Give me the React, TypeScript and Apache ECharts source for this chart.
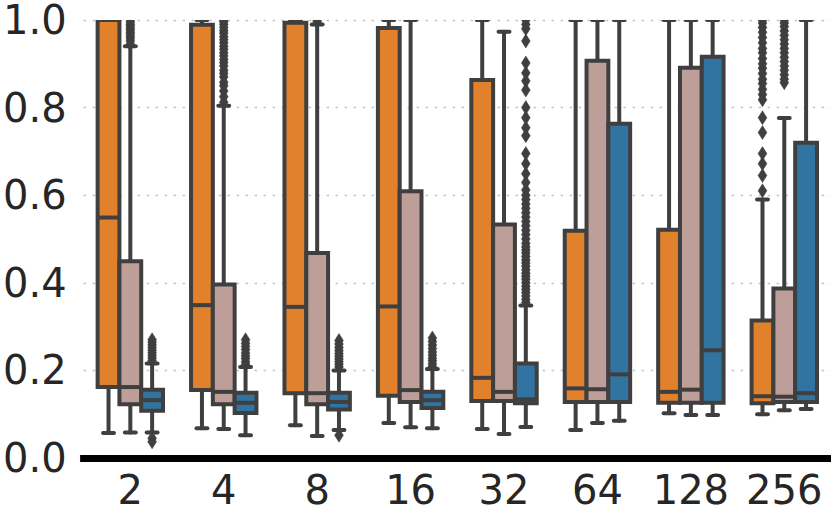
import React, { useEffect, useRef } from 'react';
import * as echarts from 'echarts';

const categories = ['2', '4', '8', '16', '32', '64', '128', '256'];
const yTicks = [0, 0.2, 0.4, 0.6, 0.8, 1.0];
const hueColors = ['#e1812c', '#bd9e99', '#3274a1'];

// per category: [min, q1, median, q3, max]
const orangeStats = [
  [0.057, 0.162, 0.549, 1.0, 1.0],
  [0.068, 0.155, 0.349, 0.989, 1.0],
  [0.075, 0.148, 0.345, 0.994, 1.0],
  [0.08, 0.142, 0.346, 0.982, 1.0],
  [0.066, 0.13, 0.183, 0.863, 1.0],
  [0.064, 0.128, 0.159, 0.519, 1.0],
  [0.102, 0.126, 0.151, 0.521, 1.0],
  [0.1, 0.125, 0.141, 0.314, 0.59],
];
const pinkStats = [
  [0.058, 0.123, 0.162, 0.449, 0.94],
  [0.066, 0.123, 0.151, 0.396, 0.804],
  [0.05, 0.123, 0.148, 0.468, 0.99],
  [0.07, 0.128, 0.155, 0.609, 1.0],
  [0.055, 0.13, 0.151, 0.533, 0.973],
  [0.08, 0.128, 0.157, 0.907, 1.0],
  [0.098, 0.126, 0.156, 0.891, 1.0],
  [0.109, 0.128, 0.14, 0.387, 0.776],
];
const blueStats = [
  [0.058, 0.108, 0.132, 0.156, 0.216],
  [0.052, 0.103, 0.126, 0.149, 0.208],
  [0.064, 0.111, 0.128, 0.149, 0.2],
  [0.068, 0.114, 0.132, 0.151, 0.203],
  [0.071, 0.125, 0.134, 0.216, 0.348],
  [0.085, 0.128, 0.191, 0.763, 1.0],
  [0.098, 0.126, 0.246, 0.916, 1.0],
  [0.112, 0.128, 0.148, 0.72, 1.0],
];

// outliers per category
const orangeOutliers = [
  [], [], [], [], [], [], [],
  [0.61, 0.645, 0.672, 0.695, 0.743, 0.777, 0.818, 0.83, 0.842, 0.855, 0.865, 0.878, 0.89, 0.9, 0.912, 0.925, 0.935, 0.948, 0.96, 0.972, 0.983, 0.993, 1.0],
];
const pinkOutliers = [
  [0.945, 0.952, 0.958, 0.963, 0.968, 0.972, 0.977, 0.981, 0.986, 0.99, 0.995, 1.0],
  [0.812, 0.825, 0.838, 0.85, 0.858, 0.87, 0.878, 0.885, 0.895, 0.903, 0.91, 0.918, 0.925, 0.933, 0.94, 0.948, 0.955, 0.962, 0.97, 0.976, 0.983, 0.99, 0.996, 1.0],
  [0.996, 1.0],
  [], [], [], [],
  [0.857, 0.865, 0.875, 0.885, 0.895, 0.905, 0.915, 0.925, 0.935, 0.945, 0.955, 0.965, 0.975, 0.985, 0.993, 1.0],
];
const blueOutliers = [
  [0.222, 0.228, 0.234, 0.24, 0.246, 0.252, 0.258, 0.264, 0.27, 0.045, 0.037],
  [0.214, 0.22, 0.227, 0.233, 0.24, 0.248, 0.255, 0.262, 0.27],
  [0.208, 0.214, 0.22, 0.226, 0.232, 0.238, 0.245, 0.252, 0.26, 0.268, 0.052],
  [0.209, 0.215, 0.222, 0.228, 0.235, 0.242, 0.25, 0.258, 0.266, 0.274],
  [0.355, 0.362, 0.37, 0.378, 0.385, 0.392, 0.4, 0.408, 0.415, 0.422, 0.43, 0.438, 0.445, 0.452, 0.46, 0.468, 0.475, 0.482, 0.49, 0.5, 0.51, 0.52, 0.53, 0.54, 0.55, 0.56, 0.57, 0.58, 0.59, 0.6, 0.612, 0.629, 0.649, 0.672, 0.695, 0.736, 0.754, 0.777, 0.8, 0.84, 0.861, 0.879, 0.902, 0.952, 0.98, 0.99, 1.0],
  [], [], [],
];

const EDGE = '#3f3f3f';
const LW = 4;

function boxRender(hue: number, color: string) {
  return (params: any, api: any) => {
    const ci = api.value(0);
    const band = api.size([1, 0])[0];
    const w = (band * 0.7) / 3;
    const cx = api.coord([ci, 0])[0] + (hue - 1) * w;
    const y = (v: number) => api.coord([ci, v])[1];
    const yMin = y(api.value(1));
    const yQ1 = y(api.value(2));
    const yMed = y(api.value(3));
    const yQ3 = y(api.value(4));
    const yMax = y(api.value(5));
    const capHalf = w / 4;
    const st = { stroke: EDGE, lineWidth: LW, lineCap: 'round' };
    return {
      type: 'group',
      children: [
        { type: 'line', shape: { x1: cx, y1: yQ3, x2: cx, y2: yMax }, style: st },
        { type: 'line', shape: { x1: cx, y1: yQ1, x2: cx, y2: yMin }, style: st },
        { type: 'line', shape: { x1: cx - capHalf, y1: yMax, x2: cx + capHalf, y2: yMax }, style: st },
        { type: 'line', shape: { x1: cx - capHalf, y1: yMin, x2: cx + capHalf, y2: yMin }, style: st },
        { type: 'rect', shape: { x: cx - w / 2, y: yQ3, width: w, height: yQ1 - yQ3 }, style: { fill: color, stroke: EDGE, lineWidth: LW } },
        { type: 'line', shape: { x1: cx - w / 2, y1: yMed, x2: cx + w / 2, y2: yMed }, style: { stroke: EDGE, lineWidth: LW } },
      ],
    };
  };
}

function outlierRender(hue: number) {
  return (params: any, api: any) => {
    const ci = api.value(0);
    const band = api.size([1, 0])[0];
    const w = (band * 0.7) / 3;
    const p = api.coord([ci, api.value(1)]);
    const cx = p[0] + (hue - 1) * w;
    const cy = p[1];
    const hw = 4.4;
    const hh = 7;
    return {
      type: 'polygon',
      shape: { points: [[cx, cy - hh], [cx + hw, cy], [cx, cy + hh], [cx - hw, cy]] },
      style: { fill: EDGE, stroke: EDGE, lineWidth: 0.5 },
    };
  };
}

export default function App() {
  const ref = useRef<HTMLDivElement>(null);
  useEffect(() => {
    document.body.style.margin = '0';
    if (!ref.current) return;
    const chart = echarts.init(ref.current, undefined, { renderer: 'svg' });
    const statsList = [orangeStats, pinkStats, blueStats];
    const outList = [orangeOutliers, pinkOutliers, blueOutliers];
    const series: any[] = [];
    statsList.forEach((stats, hue) => {
      series.push({
        type: 'custom',
        clip: true,
        renderItem: boxRender(hue, hueColors[hue]),
        encode: { x: 0, y: [1, 2, 3, 4, 5] },
        data: stats.map((s, i) => [i, ...s]),
        z: 2,
      });
    });
    outList.forEach((outs, hue) => {
      const data: number[][] = [];
      outs.forEach((vals, i) => vals.forEach((v) => data.push([i, v])));
      series.push({
        type: 'custom',
        clip: true,
        renderItem: outlierRender(hue),
        encode: { x: 0, y: 1 },
        data,
        z: 3,
      });
    });
    chart.setOption({
      animation: false,
      grid: { left: 79, right: 0, top: 19, bottom: 55 },
      xAxis: {
        type: 'category',
        data: categories,
        boundaryGap: true,
        axisLine: { show: true, lineStyle: { color: '#000', width: 7, cap: 'square' } },
        axisTick: { show: false },
        axisLabel: { interval: 0, fontSize: 40, color: '#262626', fontFamily: 'DejaVu Sans', margin: 12 },
        splitLine: { show: false },
      },
      yAxis: {
        type: 'value',
        min: yTicks[0],
        max: yTicks[yTicks.length - 1],
        interval: 0.2,
        axisLine: { show: false },
        axisTick: { show: false },
        axisLabel: {
          fontSize: 40,
          lineHeight: 30,
          color: '#262626',
          fontFamily: 'DejaVu Sans',
          margin: 17,
          formatter: (v: number) => v.toFixed(1),
        },
        splitLine: { show: true, lineStyle: { color: '#c4c4c4', width: 1.3, type: [2.5, 6.5] } },
      },
      series,
    });
    return () => chart.dispose();
  }, []);
  return <div ref={ref} style={{ width: 831, height: 513 }} />;
}
